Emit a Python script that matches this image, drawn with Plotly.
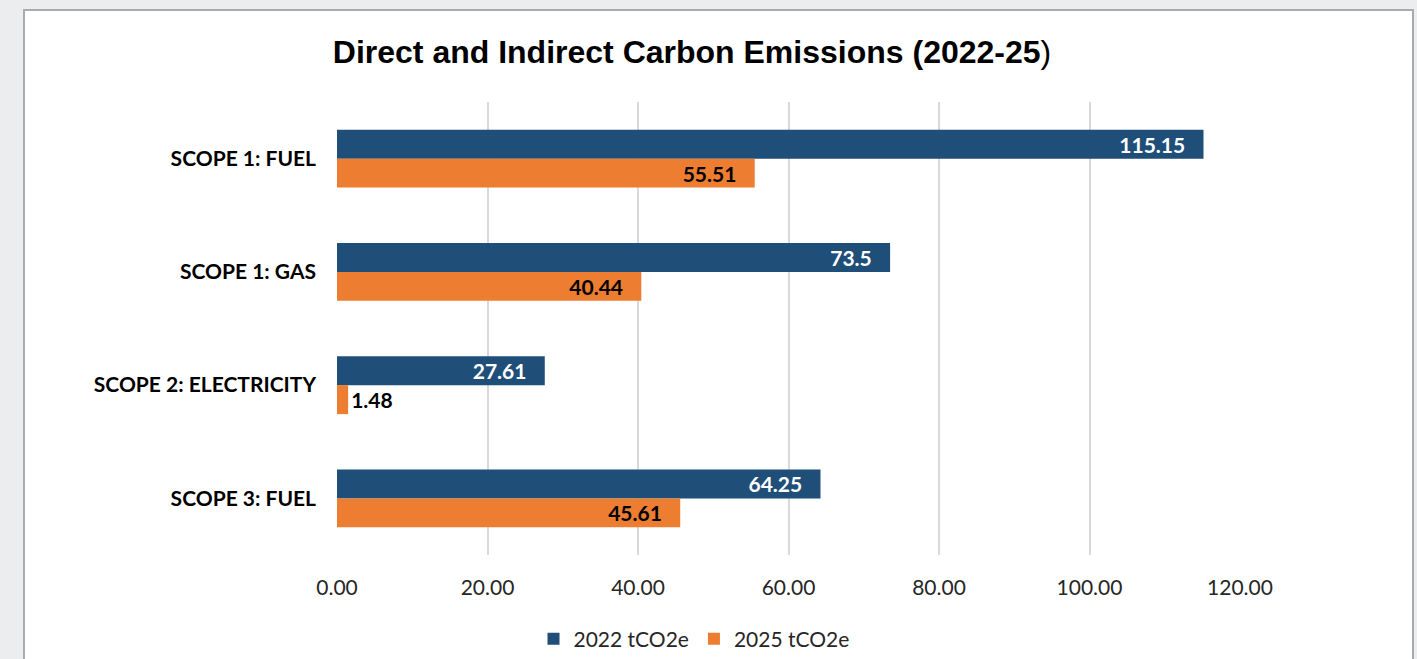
import plotly.graph_objects as go

categories = ["SCOPE 1: FUEL", "SCOPE 1: GAS", "SCOPE 2: ELECTRICITY", "SCOPE 3: FUEL"]
values_2022 = [115.15, 73.5, 27.61, 64.25]
values_2025 = [55.51, 40.44, 1.48, 45.61]
series_names = ["2022 tCO2e", "2025 tCO2e"]
x_ticks = [0, 20, 40, 60, 80, 100, 120]

BLUE = "#1F4E79"
ORANGE = "#ED7D31"
FONT = "Lato"
PAD = "\u00a0\u00a0\u00a0"

W, H = 1417, 659
L, R, T, B = 337, 1240, 102, 555
pw, ph = R - L, B - T


def px_x(px):
    return (px - L) / pw


def px_y(py):
    return (B - py) / ph


def labels(vals):
    out, pos = [], []
    for v in vals:
        if v < 5:
            out.append(f"{v:g}")
            pos.append("outside")
        else:
            out.append(f"{v:g}" + PAD)
            pos.append("inside")
    return out, pos


t22, p22 = labels(values_2022)
t25, p25 = labels(values_2025)

fig = go.Figure()
fig.add_trace(go.Bar(
    y=categories, x=values_2022, name=series_names[0], orientation="h",
    marker=dict(color=BLUE, line=dict(width=0)),
    text=t22, textposition=p22, insidetextanchor="end", constraintext="none",
    insidetextfont=dict(color="white", family=FONT, size=21, weight="bold"),
    outsidetextfont=dict(color="black", family=FONT, size=21, weight="bold"),
    cliponaxis=False, hoverinfo="skip",
))
fig.add_trace(go.Bar(
    y=categories, x=values_2025, name=series_names[1], orientation="h",
    marker=dict(color=ORANGE, line=dict(width=0)),
    text=t25, textposition=p25, insidetextanchor="end", constraintext="none",
    insidetextfont=dict(color="black", family=FONT, size=21, weight="bold"),
    outsidetextfont=dict(color="black", family=FONT, size=21, weight="bold"),
    cliponaxis=False, hoverinfo="skip",
))

fig.update_layout(
    width=W, height=H,
    margin=dict(l=L, r=W - R, t=T, b=H - B, pad=0, autoexpand=False),
    paper_bgcolor="#ECEDEF",
    plot_bgcolor="rgba(0,0,0,0)",
    barmode="group", bargap=0.488, bargroupgap=0,
    title=dict(
        text="<b>Direct and Indirect Carbon Emissions (2022-25</b>)",
        font=dict(family="Liberation Sans, Arial", size=32, color="black"),
        x=692 / W, xanchor="center", y=1 - 52 / H, yanchor="middle",
    ),
    showlegend=True,
    legend=dict(
        orientation="h", xref="container", yref="container",
        x=694 / W, xanchor="center", y=1 - 639 / H, yanchor="middle",
        font=dict(family=FONT, size=21, color="#262626"),
        bgcolor="rgba(0,0,0,0)", traceorder="normal",
    ),
    shapes=[dict(
        type="rect", xref="paper", yref="paper", layer="below",
        x0=px_x(24), x1=px_x(1413), y0=px_y(680), y1=px_y(10),
        fillcolor="white", line=dict(color="#A7ACAF", width=2),
    )],
)

fig.update_xaxes(
    range=[0, 120], tickvals=x_ticks, tickformat=".2f",
    showgrid=True, gridcolor="#D9D9D9", gridwidth=2,
    zeroline=False, showline=False, ticks="",
    tickfont=dict(family=FONT, size=21, color="#262626"),
    ticklabelstandoff=18,
)
fig.update_yaxes(
    categoryorder="array", categoryarray=categories, autorange="reversed",
    showgrid=False, zeroline=False, showline=False, ticks="",
    tickfont=dict(family=FONT, size=21, color="black", weight="bold"),
    ticklabelstandoff=20,
)

fig.write_html(
    "out.html",
    config={"displayModeBar": False},
    post_script="document.body.style.margin='0px';document.body.style.overflow='hidden';",
)
